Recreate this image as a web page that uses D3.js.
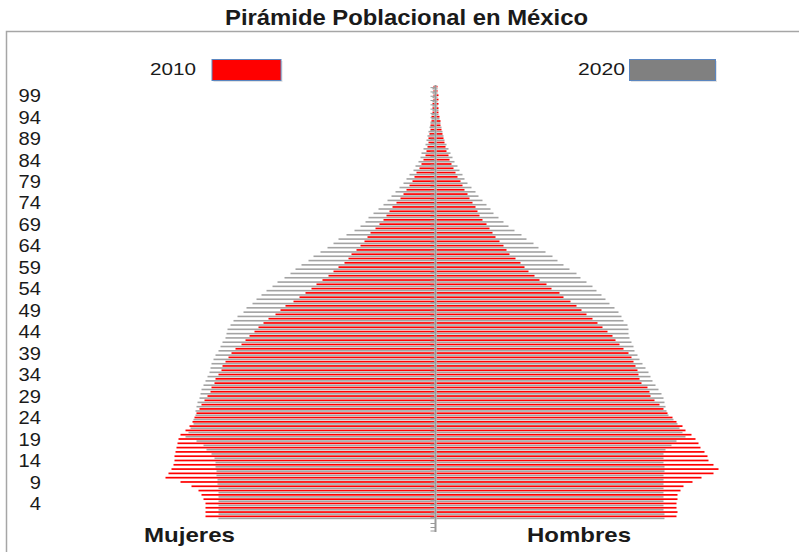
<!DOCTYPE html>
<html>
<head>
<meta charset="utf-8">
<script src="https://cdn.jsdelivr.net/npm/d3@7"></script>
<style>
  html, body { margin: 0; padding: 0; background: #fff; }
  svg { display: block; }
  text { font-family: "Liberation Sans", Arial, sans-serif; fill: #1a1a1a; }
</style>
</head>
<body>
<svg id="chart" width="799" height="552"></svg>
<script>
// ---- Data (thousands of people), index = age 0..100 ----
const ages = d3.range(0, 101);

const hombres2010 = [960,964,960,960,964,964,976,988,1024,1060,1108,1128,1108,1088,1084,1072,1056,1048,1036,1020,
  996,984,960,944,924,908,892,872,856,852,844,820,812,808,804,796,788,780,768,748,
  732,716,704,684,664,644,624,600,580,560,536,508,492,460,440,412,392,368,352,336,
  316,292,280,268,252,236,224,212,200,184,172,164,156,144,132,124,112,104,96,84,
  76,68,60,52,48,40,36,32,28,24,20,16,16,12,8,8,8,8,8,4,4];

const hombres2020 = [912,912,908,908,908,908,908,908,908,908,908,912,912,908,908,908,916,940,960,996,
  984,972,964,948,928,920,916,912,908,900,888,876,864,856,848,836,824,812,804,792,
  788,780,772,768,768,764,748,740,728,712,692,676,660,640,624,600,576,560,532,508,
  484,464,436,408,388,360,340,312,288,268,248,228,216,200,184,168,156,140,124,112,
  104,92,84,72,64,56,48,40,32,28,24,20,16,12,8,8,4,4,4,4,4];

const mujeres2010 = [916,916,916,916,924,932,944,972,1016,1076,1064,1052,1044,1040,1040,1036,1032,1028,1024,1016,
  996,980,968,960,952,940,932,920,908,896,892,880,876,864,852,848,836,824,812,796,
  772,756,740,720,704,684,664,636,616,596,564,540,516,492,472,448,424,404,384,360,
  344,332,312,296,280,268,256,236,220,204,192,180,168,152,136,124,112,100,88,80,
  72,60,52,44,36,32,28,24,24,20,16,16,12,12,8,8,8,4,4,4,4];

const mujeres2020 = [864,864,864,864,864,864,864,864,868,868,872,872,876,876,880,892,912,924,952,996,
  984,976,964,964,956,956,952,948,940,936,932,924,916,908,900,896,892,884,876,864,
  856,848,836,832,828,816,804,788,764,752,728,712,692,672,648,628,600,576,556,532,
  504,484,456,428,404,384,352,320,296,276,264,244,224,204,188,172,156,140,124,112,
  100,84,76,64,56,52,44,36,32,28,24,20,16,12,12,8,8,8,8,8,8];

const ageTickLabels = [99, 94, 89, 84, 79, 74, 69, 64, 59, 54, 49, 44, 39, 34, 29, 24, 19, 14, 9, 4];
const seriesNames = ["2010", "2020"];
const sexLabels = ["Mujeres", "Hombres"];
const titleText = "Pirámide Poblacional en México";

// ---- Drawing ----
const svg = d3.select("#chart");
const colors = { "2010": "#ff0000", "2020": "#a3a3a3" };
const cx = 435.5;

const y = d3.scaleBand().domain(ages.slice().reverse()).range([85.5, 519.5]).padding(0);
const x = d3.scaleLinear().domain([0, 1200]).range([0, 300]);

// frame
svg.append("rect").attr("x", 6.5).attr("y", 31.5).attr("width", 800).attr("height", 540)
  .attr("fill", "none").attr("stroke", "#a6a6a6").attr("stroke-width", 1.5);

function stretch(sel, k) {
  sel.each(function() {
    const w = this.getComputedTextLength();
    d3.select(this).attr("textLength", w * k).attr("lengthAdjust", "spacingAndGlyphs");
  });
}

// title
svg.append("text").attr("x", 406.5).attr("y", 25).attr("text-anchor", "middle")
  .style("font-size", "22px").style("font-weight", "bold").text(titleText)
  .attr("textLength", 363).attr("lengthAdjust", "spacingAndGlyphs");

// bars
const rows = ages.map(a => ({
  age: a,
  m10: mujeres2010[a], m20: mujeres2020[a], h10: hombres2010[a], h20: hombres2020[a]
}));

const gBars = svg.append("g");
const barDefs = [
  { key: "m10", side: -1, series: "2010", off: 0.3, h: 1.7 },
  { key: "m20", side: -1, series: "2020", off: 2.4, h: 1.6 },
  { key: "h10", side: 1, series: "2010", off: 0.3, h: 1.7 },
  { key: "h20", side: 1, series: "2020", off: 2.4, h: 1.6 }
];
barDefs.forEach(def => {
  gBars.selectAll("rect." + def.key).data(rows).join("rect")
    .attr("class", def.key)
    .attr("x", d => def.side > 0 ? cx + 1 : cx - 1 - x(d[def.key]))
    .attr("y", d => y(d.age) + def.off)
    .attr("width", d => x(d[def.key]))
    .attr("height", def.h)
    .attr("fill", colors[def.series]);
});

// center axis
const axis = d3.axisLeft(y).tickSize(5).tickFormat("").tickSizeOuter(0);
const gAxis = svg.append("g").attr("transform", `translate(${cx},0)`).call(axis);
gAxis.select(".domain").remove();
gAxis.selectAll(".tick line").attr("stroke", "#999").attr("stroke-width", 1);
svg.append("line").attr("x1", cx).attr("x2", cx).attr("y1", 85).attr("y2", 532)
  .attr("stroke", "#999").attr("stroke-width", 2);
[523.5, 527.5, 531].forEach(v => {
  svg.append("line").attr("x1", cx - 5).attr("x2", cx).attr("y1", v).attr("y2", v)
    .attr("stroke", "#999").attr("stroke-width", 1);
});

// age labels
svg.append("g").selectAll("text").data(ageTickLabels).join("text")
  .attr("x", 41).attr("y", d => y(d) + y.bandwidth() / 2 + 3.8)
  .attr("dy", "0.35em").attr("text-anchor", "end")
  .style("font-size", "18px").text(d => d)
  .call(stretch, 1.12);

// legend
const legend = [
  { name: seriesNames[0], tx: 150, rx: 212, fill: "#ff0000", tl: 46 },
  { name: seriesNames[1], tx: 578, rx: 629.5, fill: "#808080", tl: 47 }
];
legend.forEach(l => {
  svg.append("rect").attr("x", l.rx + 1.5).attr("y", 61).attr("width", l.name === "2010" ? 69 : 86)
    .attr("height", 21).attr("fill", "#d0d0d0").attr("opacity", 0.6);
  svg.append("rect").attr("x", l.rx).attr("y", 59.5).attr("width", l.name === "2010" ? 69 : 86)
    .attr("height", 21).attr("fill", l.fill).attr("stroke", "#5b86c0").attr("stroke-width", 1);
  svg.append("text").attr("x", l.tx).attr("y", 75).style("font-size", "17px").text(l.name)
    .attr("textLength", l.tl).attr("lengthAdjust", "spacingAndGlyphs");
});

// sex labels
svg.append("text").attr("x", 144).attr("y", 541.5).style("font-size", "21px").style("font-weight", "bold")
  .text(sexLabels[0]).attr("textLength", 91).attr("lengthAdjust", "spacingAndGlyphs");
svg.append("text").attr("x", 527).attr("y", 541.5).style("font-size", "21px").style("font-weight", "bold")
  .text(sexLabels[1]).attr("textLength", 104).attr("lengthAdjust", "spacingAndGlyphs");
</script>
</body>
</html>
